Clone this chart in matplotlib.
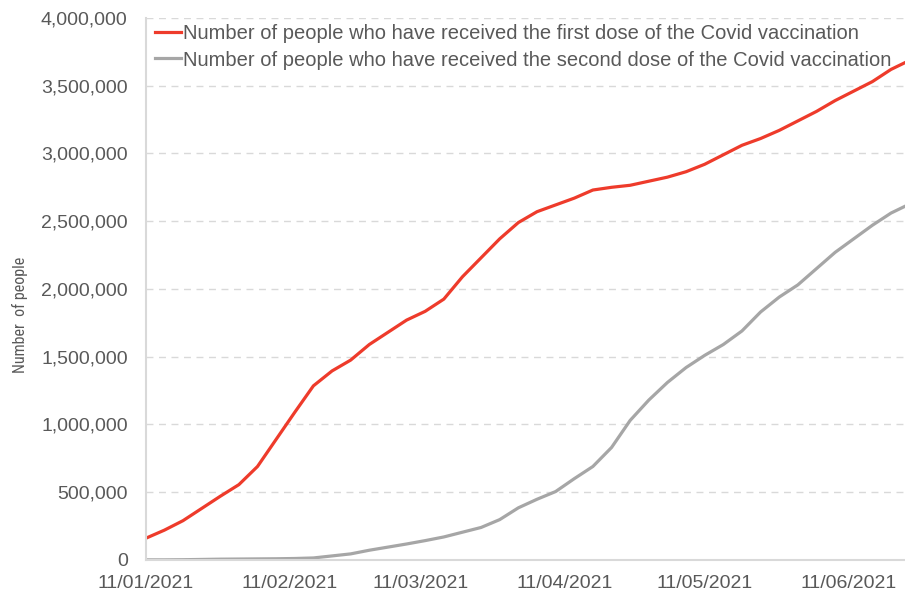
import pandas as pd
import matplotlib.pyplot as plt
import matplotlib.ticker as mticker
import matplotlib.dates as mdates
from matplotlib import font_manager

plt.rcParams["font.family"] = ["Liberation Sans", "DejaVu Sans"]

# 4日ごとの累計接種者数
dates = pd.date_range("2021-01-11", periods=41, freq="4D").append(pd.DatetimeIndex(["2021-06-23"]))
first_dose = [160000, 220000, 290000, 380000, 470000, 556000, 690000, 890000,
              1090000, 1285000, 1395000, 1475000, 1590000, 1680000, 1770000, 1835000,
              1925000, 2090000, 2230000, 2370000, 2490000, 2570000, 2620000, 2670000,
              2730000, 2750000, 2765000, 2795000, 2825000, 2865000, 2920000, 2990000,
              3060000, 3110000, 3170000, 3240000, 3310000, 3390000, 3460000, 3530000,
              3620000, 3670000]
second_dose = [1000, 1000, 2000, 4000, 6000, 7000, 8000, 9000,
               11000, 15000, 30000, 45000, 72000, 95000, 118000, 143000,
               170000, 205000, 240000, 298000, 385000, 448000, 505000, 600000,
               690000, 830000, 1030000, 1180000, 1310000, 1420000, 1510000, 1590000,
               1690000, 1830000, 1940000, 2030000, 2150000, 2270000, 2370000, 2470000,
               2560000, 2610000]

label_first = "Number of people who have received the first dose of the Covid vaccination"
label_second = "Number of people who have received the second dose of the Covid vaccination"
tick_dates = pd.to_datetime(["2021-01-11", "2021-02-11", "2021-03-11", "2021-04-11", "2021-05-11", "2021-06-11"])

text_col = "#595959"
grid_col = "#d9d9d9"

# 縦軸ラベルはArial Narrow風の細い書体 (無ければ普通の書体を小さめに)
installed = {f.name for f in font_manager.fontManager.ttflist}
narrow, ylab_size = "Liberation Sans", 9.5
for name in ["Liberation Sans Narrow", "Arial Narrow", "Roboto Condensed", "Archivo Narrow"]:
    if name in installed:
        narrow, ylab_size = name, 11.5
        break

fig = plt.figure(figsize=(9.05, 5.97), dpi=100)
ax = fig.add_axes([0.161, 0.062, 0.839, 0.908])

ax.plot(dates, first_dose, color="#EE3B2B", lw=2.3, label=label_first)
ax.plot(dates, second_dose, color="#A6A6A6", lw=2.3, label=label_second)

ax.set_xlim(dates[0], dates[-1])
ax.set_ylim(0, 4000000)
ax.yaxis.set_major_locator(mticker.MultipleLocator(500000))
ax.yaxis.set_major_formatter(mticker.StrMethodFormatter("{x:,.0f}"))
ax.set_xticks(tick_dates)
ax.xaxis.set_major_formatter(mdates.DateFormatter("%d/%m/%Y"))

ax.grid(axis="y", color=grid_col, linestyle=(0, (5, 4)), lw=1)
ax.set_axisbelow(True)
for s in ["top", "right"]:
    ax.spines[s].set_visible(False)
ax.spines["left"].set_color(grid_col)
ax.spines["bottom"].set_color(grid_col)
ax.spines["left"].set_linewidth(1.5)
ax.spines["bottom"].set_linewidth(1.5)
ax.tick_params(axis="both", length=0, labelsize=14, labelcolor=text_col)
ax.tick_params(axis="y", pad=13)
ax.tick_params(axis="x", pad=11)

ax.set_ylabel("Number  of people", fontsize=ylab_size, color=text_col, family=[narrow, "DejaVu Sans"])
ax.yaxis.set_label_coords(-0.155, 0.452)

ax.legend(loc="upper left", bbox_to_anchor=(0.0, 1.005), frameon=False, fontsize=14.5,
          handlelength=1.3, handletextpad=0.1, labelspacing=0.36, labelcolor=text_col,
          borderaxespad=0.05)

plt.savefig("out.png", dpi=100)
